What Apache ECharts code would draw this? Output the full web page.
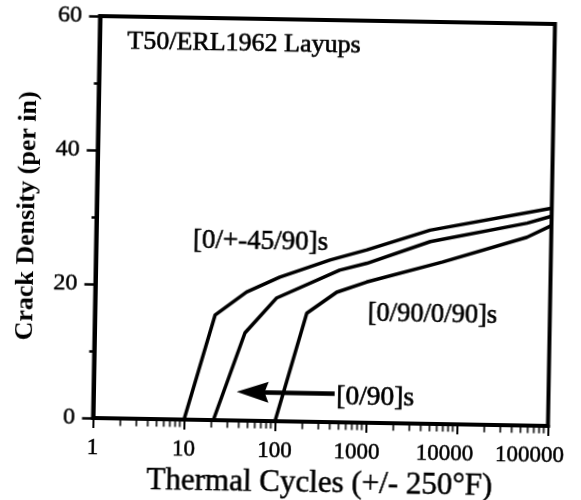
<!DOCTYPE html>
<html>
<head>
<meta charset="utf-8">
<script src="https://cdn.jsdelivr.net/npm/echarts@6/dist/echarts.min.js"></script>
<style>
html,body{margin:0;padding:0;background:#fff;overflow:hidden}
#c{width:581px;height:500px;transform:rotate(1deg);transform-origin:324px 221px}
</style>
</head>
<body>
<div id="c"></div>
<script>
// Data
const seriesNames = ['[0/+-45/90]s', '[0/90]s', '[0/90/0/90]s'];
const quasiIso = [[10, 0], [21, 15.7], [46, 19.2], [106, 21.5], [375, 24.2], [950, 25.8], [4640, 28.9], [100000, 32.5]];
const crossPly = [[21, 0], [45, 13.1], [99, 18.4], [480, 22.7], [955, 23.8], [4700, 27.2], [54000, 30.2], [100000, 31.3]];
const crossPly2 = [[100, 0], [213, 16.2], [450, 19.4], [955, 21.0], [6500, 24.2], [54000, 28.1], [100000, 29.9]];
const xTickValues = [1, 10, 100, 1000, 10000, 100000];
const xMinorTicks = [];
for (const d of [1, 10, 100, 1000, 10000]) for (const m of [2, 3, 4, 5, 6, 7, 8, 9]) xMinorTicks.push(d * m);
const yTickValues = [0, 20, 40, 60];
const arrowFrom = [56, 4.3];
const arrowTo = [447, 4.3];

const serif = "'Liberation Serif', 'DejaVu Serif', serif";
const chart = echarts.init(document.getElementById('c'), null, {renderer: 'canvas'});
const lineStyle = {color: '#000', width: 3.5};
const labelShift = {1000: 18, 10000: 24, 100000: 36};
const txt = (t, size) => ({text: t, font: size + 'px ' + serif, fill: '#000', stroke: '#000', lineWidth: 0.6});
const richLabel = pad => ({fontFamily: serif, fontSize: 23, color: '#000', textBorderColor: '#000', textBorderWidth: 0.5, padding: [0, pad, 0, 0]});
chart.setOption({
  animation: false,
  backgroundColor: '#fff',
  grid: {left: 96.5, right: 29.5, top: 20, bottom: 78, outerBoundsMode: 'none', containLabel: false,
    show: true, borderColor: '#000', borderWidth: 4, backgroundColor: 'transparent'},
  xAxis: {
    type: 'log', logBase: 10, min: 1, max: 100000,
    name: 'Thermal Cycles (+/- 250°F)', nameLocation: 'middle', nameGap: 44,
    nameTextStyle: {fontFamily: serif, fontSize: 31, color: '#000', textBorderColor: '#000', textBorderWidth: 0.5},
    axisLine: {onZero: false, lineStyle: {color: '#000', width: 4}},
    axisTick: {show: true, inside: false, length: 10, lineStyle: {color: '#000', width: 2}},
    axisLabel: {fontFamily: serif, fontSize: 23, color: '#000', margin: 18, textBorderColor: '#000', textBorderWidth: 0.5,
      formatter: v => {
        const r = Math.round(v);
        if (!xTickValues.includes(r)) return '';
        return labelShift[r] ? '{s' + r + '|' + r + '}' : String(r);
      },
      rich: {
        s1000: richLabel(labelShift[1000]),
        s10000: richLabel(labelShift[10000]),
        s100000: richLabel(labelShift[100000])
      }},
    splitLine: {show: false}, minorTick: {show: false}
  },
  yAxis: {
    type: 'value', min: 0, max: 60, interval: 20,
    name: 'Crack Density (per in)', nameLocation: 'middle', nameGap: 56,
    nameTextStyle: {fontFamily: serif, fontSize: 26, fontWeight: 'bold', color: '#000'},
    axisLine: {show: true, lineStyle: {color: '#000', width: 4}},
    axisTick: {show: true, inside: false, length: 11, lineStyle: {color: '#000', width: 2.5}},
    minorTick: {show: true, splitNumber: 2, length: 5, lineStyle: {color: '#000', width: 2.5}},
    axisLabel: {fontFamily: serif, fontSize: 24, color: '#000', margin: 18, textBorderColor: '#000', textBorderWidth: 0.5,
      formatter: v => yTickValues.includes(v) ? String(v) : ''},
    splitLine: {show: false}
  },
  graphic: [
    {type: 'text', left: 124, top: 32, style: txt('T50/ERL1962 Layups', 26)},
    {type: 'text', left: 193, top: 229, style: txt(seriesNames[0], 27)},
    {type: 'text', left: 369, top: 299, style: txt(seriesNames[2], 26.5)},
    {type: 'text', left: 339, top: 382, style: txt(seriesNames[1], 27.5)}
  ],
  series: [
    {name: seriesNames[0], type: 'line', data: quasiIso, showSymbol: false, lineStyle, itemStyle: {color: '#000'}},
    {name: seriesNames[1], type: 'line', data: crossPly, showSymbol: false, lineStyle, itemStyle: {color: '#000'},
      markLine: {silent: true, symbol: ['path://M5,0 L10,32 L5,28 L0,32 Z', 'none'], symbolSize: [21, 32],
        itemStyle: {color: '#000'},
        lineStyle: {color: '#000', width: 4.5, type: 'solid'}, label: {show: false},
        data: [[{coord: arrowFrom}, {coord: arrowTo}]]}},
    {name: seriesNames[2], type: 'line', data: crossPly2, showSymbol: false, lineStyle, itemStyle: {color: '#000'}},
    {type: 'scatter', silent: true, data: xMinorTicks.map(v => [v, 0]), symbol: 'rect', symbolSize: [2, 7],
      symbolOffset: [0, 4], itemStyle: {color: '#000'}, z: 5, clip: false}
  ]
});
</script>
</body>
</html>
